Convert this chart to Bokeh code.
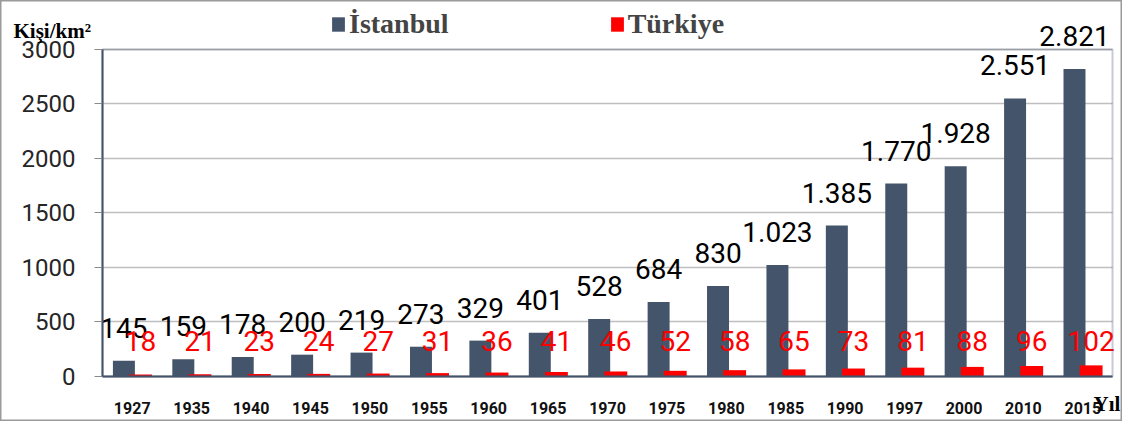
from bokeh.plotting import figure
from bokeh.models import (ColumnDataSource, Legend, LegendItem, Label, SingleIntervalTicker,
                          FixedTicker, Range1d, BoxAnnotation)
from bokeh.transform import dodge
from bokeh.core.properties import value
from bokeh.embed import file_html
from bokeh.resources import INLINE

years = ["1927", "1935", "1940", "1945", "1950", "1955", "1960", "1965", "1970",
         "1975", "1980", "1985", "1990", "1997", "2000", "2010", "2015"]
istanbul = [145, 159, 178, 200, 219, 273, 329, 401, 528, 684, 830, 1023, 1385,
            1770, 1928, 2551, 2821]
turkiye = [18, 21, 23, 24, 27, 31, 36, 41, 46, 52, 58, 65, 73, 81, 88, 96, 102]

ist_col = "#44546A"
tr_col = "#FF0000"
lab_font = "Roboto"

idx = list(range(len(years)))
src = ColumnDataSource(dict(
    idx=idx,
    ist=istanbul,
    tr=turkiye,
    ist_lbl=[f"{v:,}".replace(",", ".") for v in istanbul],
    tr_lbl=[str(v) for v in turkiye],
    tr_lbl_y=[330] * len(years),
))

W, H = 1122, 421
p = figure(x_range=Range1d(-2.217, 16.668), y_range=Range1d(-413, 3449.5),
           width=W, height=H, output_backend="svg", toolbar_location=None,
           min_border_left=0, min_border_right=0, min_border_top=0, min_border_bottom=0)

r1 = p.vbar(x=dodge("idx", -0.14, range=p.x_range), top="ist", width=0.37,
            source=src, fill_color=ist_col, line_color=None)
r2 = p.vbar(x=dodge("idx", 0.14, range=p.x_range), top="tr", width=0.385,
            source=src, fill_color=tr_col, line_color=None)

p.text(x=dodge("idx", -0.14, range=p.x_range), y="ist", text="ist_lbl", source=src,
       text_align="center", text_baseline="alphabetic", y_offset=-33,
       text_font=value(lab_font), text_font_size="28px", text_color="#000000")
p.text(x=dodge("idx", 0.14, range=p.x_range), y="tr_lbl_y", text="tr_lbl", source=src,
       text_align="center", text_baseline="alphabetic",
       text_font=value(lab_font), text_font_size="28px", text_color=tr_col)

# inner plot frame
p.add_layout(BoxAnnotation(left=-0.5, right=16.5, bottom=0, top=3000, fill_alpha=0,
                           line_color=ist_col, line_width=2))

# y axis
p.yaxis.fixed_location = -0.5
p.yaxis.bounds = (0, 3000)
p.yaxis.ticker = SingleIntervalTicker(interval=500)
p.yaxis.major_label_text_font = lab_font
p.yaxis.major_label_text_font_size = "24px"
p.yaxis.major_label_text_color = "#262626"
p.yaxis.axis_line_color = ist_col
p.yaxis.axis_line_width = 2
p.yaxis.major_tick_line_color = "#8a8a8a"
p.yaxis.major_tick_in = 0
p.yaxis.major_tick_out = 8
p.yaxis.minor_tick_line_color = None
p.yaxis.major_label_standoff = 19

# x axis
p.xaxis.fixed_location = 0
p.xaxis.bounds = (-0.5, 16.5)
p.xaxis.ticker = FixedTicker(ticks=idx)
p.xaxis.major_label_overrides = {i: y for i, y in zip(idx, years)}
p.xaxis.axis_line_color = ist_col
p.xaxis.axis_line_width = 2
p.xaxis.major_tick_line_color = None
p.xaxis.minor_tick_line_color = None
p.xaxis.major_label_text_font = lab_font
p.xaxis.major_label_text_font_style = "bold"
p.xaxis.major_label_text_font_size = "16px"
p.xaxis.major_label_text_color = "#111111"
p.xaxis.major_label_standoff = 20

p.xgrid.grid_line_color = None
p.ygrid.grid_line_color = "#bfbfbf"
p.ygrid.grid_line_width = 1.5
p.ygrid.bounds = (0, 3000)
p.ygrid.cross_bounds = (-0.5, 16.5)

p.outline_line_color = "#9a9a9a"
p.outline_line_width = 2
p.background_fill_color = "white"
p.border_fill_color = "white"

legend = Legend(items=[LegendItem(label="İstanbul", renderers=[r1]),
                       LegendItem(label="Türkiye", renderers=[r2])],
                orientation="horizontal", location=(330, 381),
                label_text_font="Liberation Serif", label_text_font_style="bold",
                label_text_font_size="28px", label_standoff=3,
                glyph_width=16, glyph_height=18, spacing=160, padding=0,
                border_line_color=None, background_fill_alpha=0, margin=0)
p.add_layout(legend, "center")

p.add_layout(Label(x=-1.998, y=3174, text="Kişi/km²", text_font="Liberation Serif",
                   text_font_style="bold", text_font_size="21px", text_color="#000000",
                   text_baseline="alphabetic"))
p.add_layout(Label(x=16.18, y=-257, text="Yıl", text_font="Liberation Serif",
                   text_font_style="bold", text_font_size="21px", text_color="#000000",
                   text_baseline="alphabetic"))

open("out.html", "w").write(file_html(p, INLINE))
